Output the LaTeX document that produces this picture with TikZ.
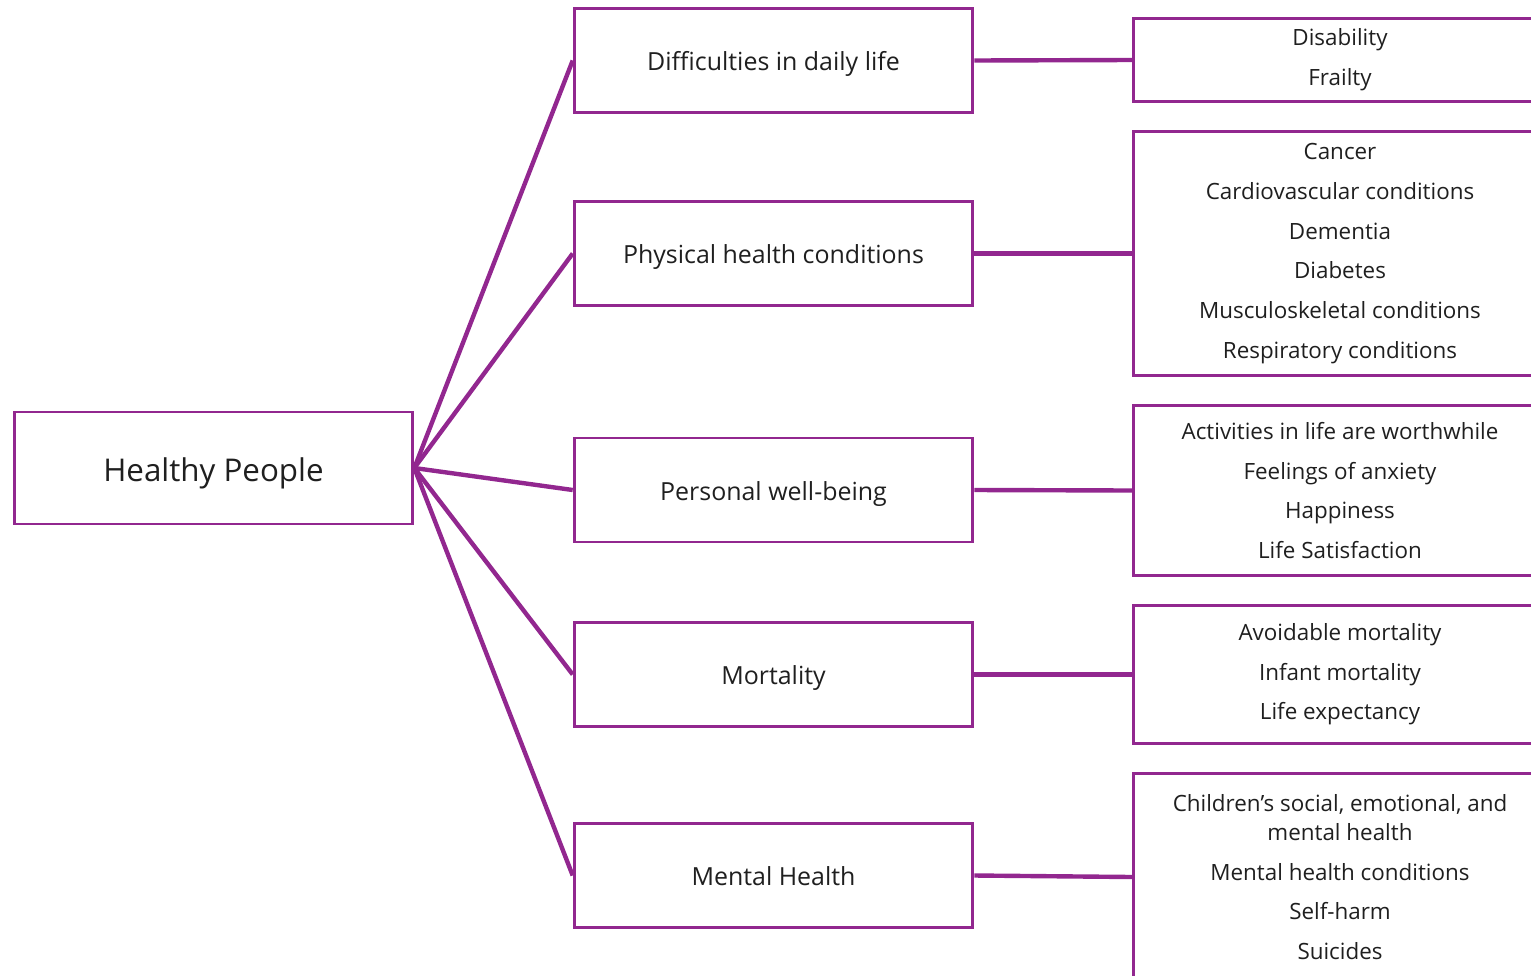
\documentclass[tikz,border=0pt]{standalone}
\usepackage{fontspec}
\setmainfont{Open Sans}
\usepackage{tikz}
\definecolor{plum}{RGB}{146,39,143}

\begin{document}
\begin{tikzpicture}[x=0.75pt, y=-0.75pt,
  every node/.style={text=black!88},
  mainbox/.style={draw=plum, line width=2.2pt, minimum width=299pt, minimum height=84pt, text height=19.5pt, text depth=0pt, font=\fontsize{23.5}{28}\selectfont},
  topic/.style={draw=plum, line width=2.2pt, minimum width=299pt, minimum height=78pt, text height=15pt, text depth=0pt, font=\fontsize{18.7}{23}\selectfont},
  detail/.style={draw=plum, line width=2.2pt, minimum width=310pt, align=center, font=\fontsize{16.8}{21.75}\selectfont},
  link/.style={draw=plum, line width=3.3pt}]

\clip (0,0) rectangle (1531,975);

% Main node
\node[mainbox] (hp) at (213.5,468) {Healthy People};

% Topic nodes
\node[topic] (daily) at (773.5,60.5) {Difficulties in daily life};
\node[topic] (phys) at (773.5,253.5) {Physical health conditions};
\node[topic] (well) at (773.5,490) {Personal well-being};
\node[topic] (mort) at (773.5,674.5) {Mortality};
\node[topic] (mental) at (773.5,875.5) {Mental Health};

% Indicator nodes
\node[detail, minimum height=62pt] (dailyd) at (1340,60) {Disability\\[8pt]Frailty};
\node[detail, minimum height=183pt] (physd) at (1340,253.5) {Cancer\\[8pt]Cardiovascular conditions\\[8pt]Dementia\\[8pt]Diabetes\\[8pt]Musculoskeletal conditions\\[8pt]Respiratory conditions};
\node[detail, minimum height=127.5pt] (welld) at (1340,490.5) {Activities in life are worthwhile\\[8pt]Feelings of anxiety\\[8pt]Happiness\\[8pt]Life Satisfaction};
\node[detail, minimum height=104pt] (mortd) at (1340,674.5) {Avoidable mortality\\[8pt]Infant mortality\\[8pt]Life expectancy};
\node[detail, minimum height=155pt] (mentald) at (1340,877) {Children’s social, emotional, and\\mental health\\[8pt]Mental health conditions\\[8pt]Self-harm\\[8pt]Suicides};

% Connecting lines
\draw[link] (hp.east) -- (daily.west);
\draw[link] (hp.east) -- (phys.west);
\draw[link] (hp.east) -- (well.west);
\draw[link] (hp.east) -- (mort.west);
\draw[link] (hp.east) -- (mental.west);

\draw[link] (daily.east) -- (dailyd.west);
\draw[link] (phys.east) -- (physd.west);
\draw[link] (well.east) -- (welld.west);
\draw[link] (mort.east) -- (mortd.west);
\draw[link] (mental.east) -- (mentald.west);

\end{tikzpicture}
\end{document}
